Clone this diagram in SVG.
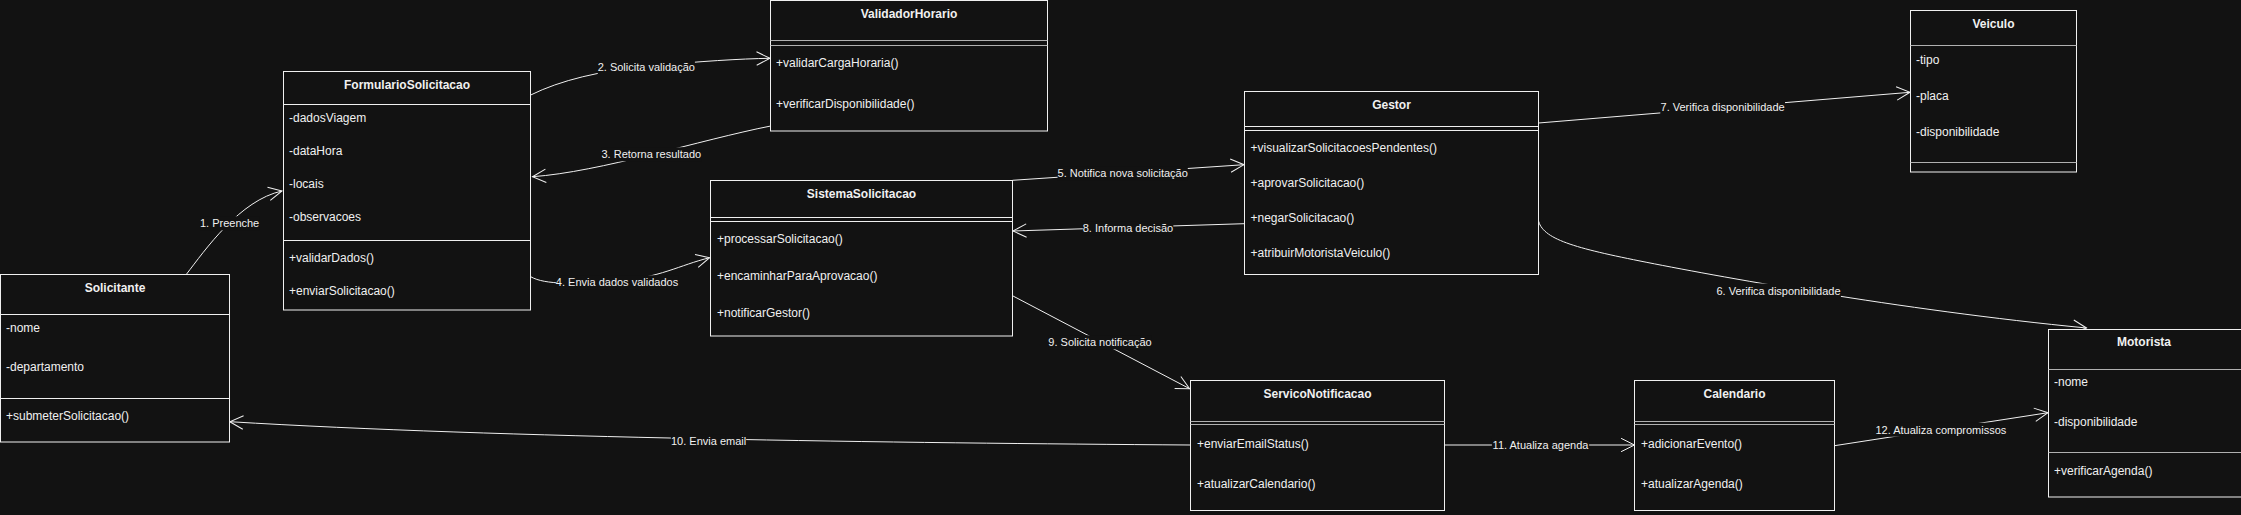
<svg xmlns="http://www.w3.org/2000/svg" width="2241" height="515" viewBox="0 0 2241 515">
<style>
.bg{fill:#121212}
.box{fill:#121212;stroke:#f0f0f0;stroke-width:1}
.ln{stroke:#f0f0f0;stroke-width:1;fill:none}
.ln2{stroke:#b0b0b0;stroke-width:1;fill:none}
.t{font-family:"Liberation Sans",Arial,Helvetica,sans-serif;font-size:12px;fill:#f0f0f0}
.h{font-weight:bold;text-anchor:middle}
.e{fill:none;stroke:#f0f0f0;stroke-width:1;marker-end:url(#arr)}
.lb{font-family:"Liberation Sans",Arial,Helvetica,sans-serif;font-size:11px;fill:#f0f0f0;text-anchor:middle}
.lbg{fill:#121212}
</style>
<defs>
<marker id="arr" markerUnits="userSpaceOnUse" markerWidth="20" markerHeight="20" viewBox="0 0 20 20" refX="15" refY="10" orient="auto">
<path d="M1.6,3.3 L15,10 L1.6,16.7" fill="none" stroke="#f0f0f0" stroke-width="1"/>
</marker>
</defs>
<rect class="bg" x="0" y="0" width="2241" height="515"/>

<g id="connectors">
<path class="e" d="M186.4,274.3 C205,250 240,200 282,191"/>
<path class="e" d="M530.7,95 Q575,73 650,66 T770,58.3"/>
<path class="e" d="M770.7,126 C700,140 600,172 532.5,176.7"/>
<path class="e" d="M530.7,276.7 C545,285 575,284 617,281 S680,265 709.6,257.7"/>
<path class="e" d="M1012.5,180.3 L1244,164.7"/>
<path class="e" d="M1538,218 C1540,238 1570,247 1640,261 S1900,310 2086.5,328"/>
<path class="e" d="M1538.5,123 L1910,92.3"/>
<path class="e" d="M1244,223.7 L1013,231"/>
<path class="e" d="M1013,296 L1189.6,388.7"/>
<path class="e" d="M1190.5,445 C900,443 500,438 229.8,421.7"/>
<path class="e" d="M1444.5,445 L1634.5,445"/>
<path class="e" d="M1834.5,445.7 L2048,412.7"/>
<g id="edge-labels">
<rect class="lbg" x="200" y="216.3" width="59.3" height="14"/>
<text class="lb" x="229.6" y="227.3">1. Preenche</text>
<rect class="lbg" x="597.7" y="60" width="97.2" height="14"/>
<text class="lb" x="646.3" y="71">2. Solicita validação</text>
<rect class="lbg" x="601.4" y="147.3" width="99.7" height="14"/>
<text class="lb" x="651.3" y="158.3">3. Retorna resultado</text>
<rect class="lbg" x="555.9" y="275.3" width="122.3" height="14"/>
<text class="lb" x="617" y="286.3">4. Envia dados validados</text>
<rect class="lbg" x="1057.6" y="166.3" width="130.2" height="14"/>
<text class="lb" x="1122.7" y="177.3">5. Notifica nova solicitação</text>
<rect class="lbg" x="1716.2" y="283.5" width="124.7" height="14"/>
<text class="lb" x="1778.5" y="294.5">6. Verifica disponibilidade</text>
<rect class="lbg" x="1660.3" y="100" width="124.7" height="14"/>
<text class="lb" x="1722.6" y="111">7. Verifica disponibilidade</text>
<rect class="lbg" x="1082.8" y="221.3" width="90.5" height="14"/>
<text class="lb" x="1128" y="232.3">8. Informa decisão</text>
<rect class="lbg" x="1048.4" y="335.3" width="103.3" height="14"/>
<text class="lb" x="1100" y="346.3">9. Solicita notificação</text>
<rect class="lbg" x="671" y="434.3" width="75.2" height="14"/>
<text class="lb" x="708.6" y="445.3">10. Envia email</text>
<rect class="lbg" x="1491.9" y="438" width="97.2" height="14"/>
<text class="lb" x="1540.5" y="449">11. Atualiza agenda</text>
<rect class="lbg" x="1872.5" y="422.7" width="136.9" height="14"/>
<text class="lb" x="1940.9" y="433.7">12. Atualiza compromissos</text>
</g>
</g>

<g id="solicitante">
<rect class="box" x="0.5" y="274.5" width="229" height="167.5"/>
<line class="ln" x1="0.5" y1="314.5" x2="229.5" y2="314.5"/>
<line class="ln" x1="0.5" y1="398.5" x2="229.5" y2="398.5"/>
<text class="t h" x="115" y="292">Solicitante</text>
<text class="t" x="6" y="332">-nome</text>
<text class="t" x="6" y="371.3">-departamento</text>
<text class="t" x="6" y="420">+submeterSolicitacao()</text>
</g>

<g id="formulario-solicitacao">
<rect class="box" x="283.5" y="71.5" width="247" height="238.5"/>
<line class="ln" x1="283.5" y1="104.5" x2="530.5" y2="104.5"/>
<line class="ln" x1="283.5" y1="240.5" x2="530.5" y2="240.5"/>
<text class="t h" x="407" y="89">FormularioSolicitacao</text>
<text class="t" x="289" y="122">-dadosViagem</text>
<text class="t" x="289" y="155">-dataHora</text>
<text class="t" x="289" y="188">-locais</text>
<text class="t" x="289" y="221">-observacoes</text>
<text class="t" x="289" y="262">+validarDados()</text>
<text class="t" x="289" y="295">+enviarSolicitacao()</text>
</g>

<g id="validador-horario">
<rect class="box" x="770.5" y="0.5" width="277" height="130.5"/>
<line class="ln2" x1="770.5" y1="40.5" x2="1047.5" y2="40.5"/>
<line class="ln2" x1="770.5" y1="45.5" x2="1047.5" y2="45.5"/>
<text class="t h" x="909" y="18">ValidadorHorario</text>
<text class="t" x="776" y="67">+validarCargaHoraria()</text>
<text class="t" x="776" y="108.3">+verificarDisponibilidade()</text>
</g>

<g id="sistema-solicitacao">
<rect class="box" x="710.5" y="180.5" width="302" height="155.5"/>
<line class="ln" x1="710.5" y1="217.5" x2="1012.5" y2="217.5"/>
<line class="ln" x1="710.5" y1="221.5" x2="1012.5" y2="221.5"/>
<text class="t h" x="861.5" y="198">SistemaSolicitacao</text>
<text class="t" x="717" y="243.3">+processarSolicitacao()</text>
<text class="t" x="717" y="280.3">+encaminharParaAprovacao()</text>
<text class="t" x="717" y="317">+notificarGestor()</text>
</g>

<g id="gestor">
<rect class="box" x="1244.5" y="91.5" width="294" height="183"/>
<line class="ln" x1="1244.5" y1="126.5" x2="1538.5" y2="126.5"/>
<line class="ln" x1="1244.5" y1="130.5" x2="1538.5" y2="130.5"/>
<text class="t h" x="1391.5" y="109">Gestor</text>
<text class="t" x="1250.5" y="152">+visualizarSolicitacoesPendentes()</text>
<text class="t" x="1250.5" y="187.3">+aprovarSolicitacao()</text>
<text class="t" x="1250.5" y="222.3">+negarSolicitacao()</text>
<text class="t" x="1250.5" y="257.3">+atribuirMotoristaVeiculo()</text>
</g>

<g id="veiculo">
<rect class="box" x="1910.5" y="10.5" width="166" height="161.5"/>
<line class="ln2" x1="1910.5" y1="45.5" x2="2076.5" y2="45.5"/>
<line class="ln2" x1="1910.5" y1="162.5" x2="2076.5" y2="162.5"/>
<text class="t h" x="1993.5" y="28">Veiculo</text>
<text class="t" x="1916" y="64">-tipo</text>
<text class="t" x="1916" y="100.3">-placa</text>
<text class="t" x="1916" y="136">-disponibilidade</text>
</g>

<g id="servico-notificacao">
<rect class="box" x="1190.5" y="380.5" width="254" height="130"/>
<line class="ln2" x1="1190.5" y1="421.5" x2="1444.5" y2="421.5"/>
<line class="ln2" x1="1190.5" y1="424.5" x2="1444.5" y2="424.5"/>
<text class="t h" x="1317.5" y="398.3">ServicoNotificacao</text>
<text class="t" x="1197" y="448">+enviarEmailStatus()</text>
<text class="t" x="1197" y="487.6">+atualizarCalendario()</text>
</g>

<g id="calendario">
<rect class="box" x="1634.5" y="380.5" width="200" height="130"/>
<line class="ln2" x1="1634.5" y1="421.5" x2="1834.5" y2="421.5"/>
<line class="ln2" x1="1634.5" y1="424.5" x2="1834.5" y2="424.5"/>
<text class="t h" x="1734.5" y="398.3">Calendario</text>
<text class="t" x="1641" y="448">+adicionarEvento()</text>
<text class="t" x="1641" y="488.3">+atualizarAgenda()</text>
</g>

<g id="motorista">
<rect class="box" x="2048.5" y="329.5" width="193" height="167.5"/>
<line class="ln2" x1="2048.5" y1="369.5" x2="2241.5" y2="369.5"/>
<line class="ln2" x1="2048.5" y1="452.5" x2="2241.5" y2="452.5"/>
<text class="t h" x="2144" y="346.3">Motorista</text>
<text class="t" x="2054" y="386.3">-nome</text>
<text class="t" x="2054" y="426">-disponibilidade</text>
<text class="t" x="2054" y="475">+verificarAgenda()</text>
</g>
</svg>
